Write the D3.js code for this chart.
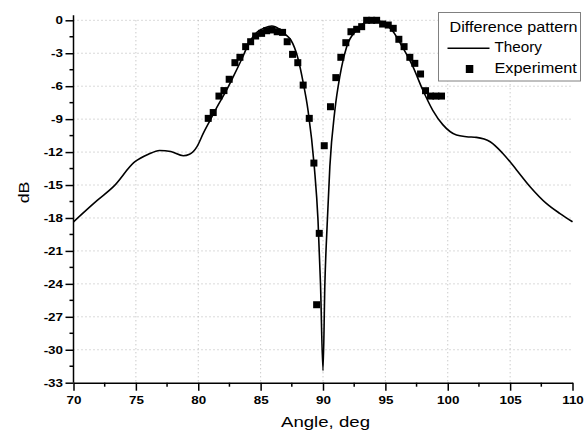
<!DOCTYPE html>
<html lang="en">
  <head>
    <meta charset="utf-8">
    <script src="https://d3js.org/d3.v7.min.js"></script>
    <style>
    body { margin: 0; background: #fff; }
    svg { font-family: "Liberation Sans", Arial, sans-serif; }
    .grid line { stroke: #b4b4b4; stroke-width: 1; stroke-dasharray: 1,3; }
    .tick text { font-weight: bold; font-size: 11px; }
    </style>
    <title>Difference pattern</title>
  </head>
  <body>
    <script>
    // theory curve (angle, dB)
    var theoryAngle = [70, 71.9, 73.2, 74.9, 76, 76.9, 77.8, 78.8, 79.3, 79.9, 80.4, 81, 81.5, 82.2, 82.8, 83.5, 84.1, 84.7, 85.3, 85.9, 86.5, 87.0, 87.4, 88.0, 88.4, 88.8, 89.3, 89.6, 89.8, 90.0, 90.15, 90.35, 90.55, 90.95, 91.35, 91.9, 92.7, 93.3, 93.8, 94.2, 94.6, 95.1, 95.6, 96.2, 97.2, 98.0, 98.8, 99.6, 100.7, 101.5, 102.3, 103.4, 104.4, 105.5, 106.6, 107.9, 109.0, 110];
    var theoryDb = [-18.35, -16.4, -15.15, -12.9, -12.2, -11.85, -11.95, -12.33, -12.2, -11.5, -10.3, -9.0, -7.9, -6.5, -5.15, -3.5, -2.0, -1.1, -0.7, -0.52, -0.8, -1.3, -1.75, -3.5, -5.6, -8.2, -13.3, -18.2, -24, -31.9, -24, -18.2, -13.3, -8.2, -5.1, -2.4, -0.88, -0.25, -0.04, 0, -0.1, -0.43, -1.0, -2.1, -4.2, -6.35, -8.2, -9.5, -10.45, -10.6, -10.66, -11.06, -12.1, -13.6, -15.15, -16.67, -17.6, -18.35];

    // experiment points
    var expAngle = [80.8, 81.2, 81.66, 82.06, 82.48, 82.94, 83.34, 83.8, 84.2, 84.6, 85.08, 85.48, 85.9, 86.33, 86.76, 87.13, 87.56, 87.98, 88.41, 88.9, 89.27, 89.49, 89.7, 90.1, 90.6, 91.03, 91.43, 91.83, 92.24, 92.7, 93.1, 93.5, 93.9, 94.3, 94.78, 95.23, 95.63, 96.08, 96.5, 96.96, 97.36, 97.82, 98.22, 98.62, 99.05, 99.5];
    var expDb = [-8.93, -8.4, -6.9, -6.4, -5.37, -3.86, -3.37, -2.4, -1.95, -1.43, -1.19, -0.95, -0.88, -1.04, -1.1, -1.95, -3.1, -3.86, -5.9, -8.93, -13.0, -25.9, -19.4, -11.42, -7.87, -5.22, -3.37, -2.04, -1.04, -0.82, -0.58, 0, 0, 0, -0.34, -0.43, -0.73, -1.73, -2.4, -3.37, -3.92, -4.89, -6.41, -6.9, -6.9, -6.9];

    var xTicks = [70, 75, 80, 85, 90, 95, 100, 105, 110];
    var yTicks = [0, -3, -6, -9, -12, -15, -18, -21, -24, -27, -30, -33];
    var legendLabels = ["Difference pattern", "Theory", "Experiment"];

    var W = 585, H = 434;
    var margin = {left: 73.5, right: 12.5, top: 20.3, bottom: 51.3};
    var sx = 1.22; // tick labels are drawn wider than plain Arial

    var svg = d3.select("body").append("svg")
                .attr("width", W)
                .attr("height", H);

    var x = d3.scaleLinear().domain([70, 110]).range([margin.left, W - margin.right]);
    var y = d3.scaleLinear().domain([-33, 0]).range([H - margin.bottom, margin.top]);

    // grid
    var grid = svg.append("g").attr("class", "grid");
    grid.selectAll("line.h")
        .data(yTicks.filter(function(d) { return d > -33; }))
        .enter().append("line")
        .attr("x1", x(70)).attr("x2", x(110))
        .attr("y1", function(d) { return y(d); })
        .attr("y2", function(d) { return y(d); });
    grid.selectAll("line.v")
        .data(xTicks.filter(function(d) { return d > 70 && d < 110; }))
        .enter().append("line")
        .attr("y1", y(0)).attr("y2", y(-33))
        .attr("x1", function(d) { return x(d); })
        .attr("x2", function(d) { return x(d); });

    // minor ticks
    var minorX = d3.range(72.5, 110, 5);
    var minorY = d3.range(-1.5, -33, -3);
    svg.append("g").selectAll("line")
       .data(minorX).enter().append("line")
       .attr("x1", function(d) { return x(d); }).attr("x2", function(d) { return x(d); })
       .attr("y1", y(-33)).attr("y2", y(-33) + 4)
       .attr("stroke", "#000").attr("stroke-width", 1.5);
    svg.append("g").selectAll("line")
       .data(minorY).enter().append("line")
       .attr("y1", function(d) { return y(d); }).attr("y2", function(d) { return y(d); })
       .attr("x1", x(70)).attr("x2", x(70) - 4)
       .attr("stroke", "#000").attr("stroke-width", 1.5);

    // axes
    var fmt = function(d) { return String(d); };
    var xAxis = svg.append("g")
       .attr("transform", "translate(0," + y(-33) + ")")
       .call(d3.axisBottom(x).tickValues(xTicks).tickFormat(fmt).tickSize(8).tickPadding(6).tickSizeOuter(0));
    var yAxis = svg.append("g")
       .attr("transform", "translate(" + x(70) + ",0)")
       .call(d3.axisLeft(y).tickValues(yTicks).tickFormat(fmt).tickSize(8).tickPadding(2).tickSizeOuter(0));
    [xAxis, yAxis].forEach(function(a) {
      a.selectAll("path, line").attr("stroke", "#000").attr("stroke-width", 1.5);
      a.selectAll("text").attr("fill", "#000");
    });
    xAxis.selectAll(".tick text").attr("transform", "scale(" + sx + ",1)");
    yAxis.selectAll(".tick text")
         .attr("x", -10.5 / sx)
         .attr("transform", "scale(" + sx + ",1)");
    yAxis.select(".domain").attr("d", "M0," + (y(0) - 5) + "V" + y(-33));

    svg.append("text")
       .attr("x", 281).attr("y", 427.3)
       .attr("textLength", 89).attr("lengthAdjust", "spacingAndGlyphs")
       .style("font-size", "15px")
       .text("Angle, deg");
    svg.append("text")
       .attr("transform", "translate(29,203.3) rotate(-90)")
       .attr("textLength", 21.7).attr("lengthAdjust", "spacingAndGlyphs")
       .style("font-size", "15px")
       .text("dB");

    // theory line
    var theory = theoryAngle.map(function(a, i) { return [a, theoryDb[i]]; });
    var line = d3.line()
       .x(function(d) { return x(d[0]); })
       .y(function(d) { return y(d[1]); })
       .curve(d3.curveMonotoneX);
    svg.append("path")
       .datum(theory)
       .attr("d", line)
       .attr("fill", "none")
       .attr("stroke", "#000")
       .attr("stroke-width", 1.6);

    // experiment markers
    var exp = expAngle.map(function(a, i) { return [a, expDb[i]]; });
    svg.append("g").selectAll("rect")
       .data(exp).enter().append("rect")
       .attr("x", function(d) { return x(d[0]) - 3.5; })
       .attr("y", function(d) { return y(d[1]) - 3.5; })
       .attr("width", 7).attr("height", 7)
       .attr("fill", "#000");

    // legend
    var lg = svg.append("g").attr("transform", "translate(438.5,12.5)");
    lg.append("rect")
      .attr("width", 142).attr("height", 68.5)
      .attr("fill", "#fff").attr("stroke", "#808080").attr("stroke-width", 1);
    var lgX = [11, 56, 56], lgY = [19.2, 39.2, 60.8], lgW = [128, 47.4, 82.4];
    lg.selectAll("text")
      .data(legendLabels).enter().append("text")
      .attr("x", function(d, i) { return lgX[i]; })
      .attr("y", function(d, i) { return lgY[i]; })
      .attr("textLength", function(d, i) { return lgW[i]; })
      .attr("lengthAdjust", "spacingAndGlyphs")
      .style("font-size", "14px")
      .text(function(d) { return d; });
    lg.append("line")
      .attr("x1", 9).attr("x2", 51).attr("y1", 35.8).attr("y2", 35.8)
      .attr("stroke", "#000").attr("stroke-width", 1.6);
    lg.append("rect")
      .attr("x", 27.3).attr("y", 52.5).attr("width", 7.5).attr("height", 8)
      .attr("fill", "#000");
    </script>
  </body>
</html>
